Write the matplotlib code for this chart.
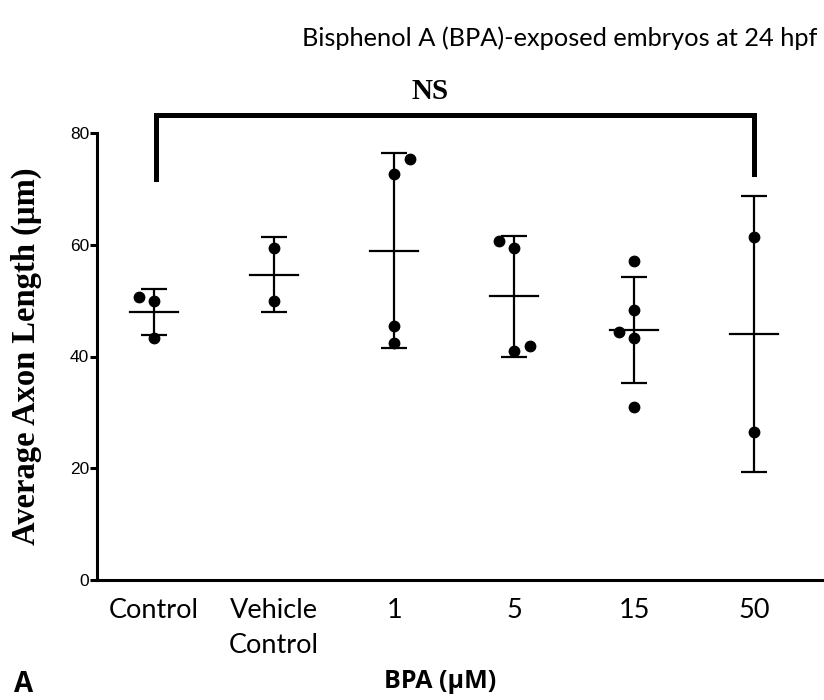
import numpy as np
import matplotlib
matplotlib.use("Agg")
import matplotlib.pyplot as plt

categories = ["Control", "Vehicle\nControl", "1", "5", "15", "50"]
control = [50.7, 50.0, 43.3]
vehicle = [59.4, 49.9]
bpa_1 = [75.3, 72.6, 45.5, 42.4]
bpa_5 = [60.7, 59.5, 41.9, 40.9]
bpa_15 = [57.1, 48.3, 44.3, 43.4, 30.9]
bpa_50 = [61.45, 26.5]
groups = [control, vehicle, bpa_1, bpa_5, bpa_15, bpa_50]
# horizontal scatter offsets of the dots (data units)
jitter = [[-0.125, 0, 0], [0, 0], [0.128, 0, 0, 0], [-0.125, 0, 0.128, 0],
          [0, 0, -0.13, 0, 0], [0, 0]]
yticks = [0, 20, 40, 60, 80]

fig = plt.figure(figsize=(8.24, 7.0), dpi=100)
ax = fig.add_axes([97/824, 120/700, 727/824, 447/700])

for i, (vals, jit) in enumerate(zip(groups, jitter)):
    v = np.array(vals)
    m = v.mean()
    sd = v.std(ddof=1)
    ax.plot(np.array(jit) + i, v, 'o', color='black', markersize=7.5, zorder=3,
            clip_on=False)
    ax.errorbar(i, m, yerr=sd, fmt='none', ecolor='black', elinewidth=1.6,
                capsize=9.5, capthick=1.6, zorder=2)
    ax.plot([i - 0.2, i + 0.2], [m, m], color='black', lw=1.6, zorder=2)

ax.set_xlim(-0.475, 5.58)
ax.set_ylim(0, 80)
ax.set_yticks(yticks)
ax.set_yticklabels([str(t) for t in yticks], fontfamily='Liberation Sans', fontsize=12.5)
ax.set_xticks(range(len(categories)))
ax.set_xticklabels(categories, fontfamily='Lato', fontsize=19.5, linespacing=1.5)
ax.tick_params(axis='x', length=0, pad=13)
ax.tick_params(axis='y', length=5, width=2.2, pad=0.5)
for s in ['top', 'right']:
    ax.spines[s].set_visible(False)
for s in ['left', 'bottom']:
    ax.spines[s].set_linewidth(2.2)

# significance bracket
bx = [0.02, 0.02, 5.0, 5.0]
by = [71.8, 83.2, 83.2, 72.7]
ax.plot(bx, by, color='black', lw=3.6, clip_on=False, solid_joinstyle='miter')
ax.text(2.3, 85.0, "NS", ha='center', va='bottom', fontfamily='Liberation Serif',
        fontweight='bold', fontsize=21)

ax.set_ylabel("Average Axon Length (µm)", fontfamily='Liberation Serif',
              fontweight='bold', fontsize=23.5, labelpad=20)
fig.text(440/824, 1 - 682/700, "BPA (µM)", ha='center', va='center',
         fontfamily='Open Sans', fontweight='bold', fontsize=18)
fig.text(560/824, 1 - 38/700, "Bisphenol A (BPA)-exposed embryos at 24 hpf",
         ha='center', va='center', fontfamily='Lato', fontsize=18.3)
fig.text(14/824, 1/700, "A", ha='left', va='bottom', fontfamily='Open Sans',
         fontweight='bold', fontsize=20)

fig.savefig("out.png", dpi=100)
